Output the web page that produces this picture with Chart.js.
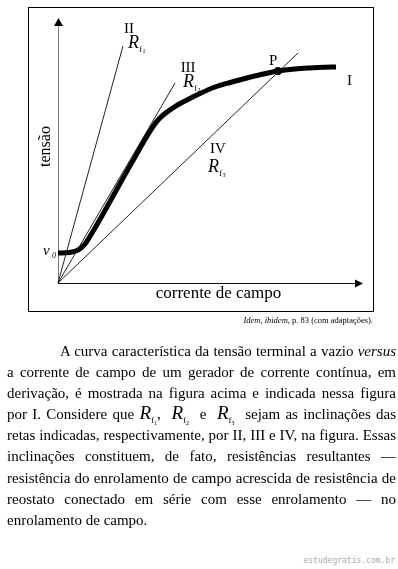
<!DOCTYPE html>
<html>
<head>
<meta charset="utf-8">
<script src="https://cdn.jsdelivr.net/npm/chart.js@4/dist/chart.umd.min.js"></script>
<style>
  html, body { margin: 0; padding: 0; background: #fff; }
  body { width: 398px; height: 569px; position: relative; overflow: hidden; }
  #chartWrap { position: absolute; left: 0; top: 0; width: 398px; height: 330px; }
  #caption { position: absolute; right: 25px; top: 315px; font-family: 'Liberation Serif', serif; font-size: 8.5px; color: #000; white-space: nowrap; }
  #para { position: absolute; left: 7px; top: 341px; width: 389px; font-family: 'Liberation Serif', 'Times New Roman', serif; font-size: 15px; line-height: 21.1px; color: #000; }
  #para .l { text-align: justify; text-align-last: justify; white-space: nowrap; height: 21.1px; }
  #para .l.first { padding-left: 53px; }
  #para .l.last { text-align-last: left; }
  .R { font-style: italic; font-size: 19px; line-height: 0; }
  .sf { font-size: 9px; position: relative; top: 4px; line-height: 0; }
  .sn { font-size: 6px; position: relative; top: 2px; }
  #wm { position: absolute; right: 3px; top: 556px; font-family: 'DejaVu Sans Mono', monospace; font-size: 8px; color: #aaa; }
</style>
</head>
<body>
<div id="chartWrap"><canvas id="c" width="398" height="330"></canvas></div>
<div id="caption"><i>Idem</i>, <i>ibidem</i>, p. 83 (com adaptações).</div>
<div id="para">
  <div class="l first">A curva característica da tensão terminal a vazio <i>versus</i></div>
  <div class="l">a corrente de campo de um gerador de corrente contínua, em</div>
  <div class="l">derivação, é mostrada na figura acima e indicada nessa figura</div>
  <div class="l">por I. Considere que <span class="R">R</span><span class="sf">f<span class="sn">1</span></span>, &nbsp;<span class="R">R</span><span class="sf">f<span class="sn">2</span></span> &nbsp;e &nbsp;<span class="R">R</span><span class="sf">f<span class="sn">3</span></span> &nbsp;sejam as inclinações das</div>
  <div class="l">retas indicadas, respectivamente, por II, III e IV, na figura. Essas</div>
  <div class="l">inclinações constituem, de fato, resistências resultantes —</div>
  <div class="l">resistência do enrolamento de campo acrescida de resistência de</div>
  <div class="l">reostato conectado em série com esse enrolamento — no</div>
  <div class="l last">enrolamento de campo.</div>
</div>
<div id="wm">estudegratis.com.br</div>
<script>
// ---- data (arbitrary units: corrente de campo vs tensão) ----
const curveI_x = [0, 2.62, 4.59, 6.23, 7.54, 8.85, 10.16, 12.13, 15.41, 18.69, 21.97, 25.25, 28.52, 30.82, 32.79, 35.08, 38.36, 42.30, 46.56, 51.48, 56.39, 61.31, 66.23, 72.13, 77.70, 82.62, 87.54, 91.15];
const curveI_y = [11.32, 11.40, 11.70, 12.26, 13.21, 14.72, 16.98, 20.75, 27.36, 34.15, 40.94, 47.55, 54.15, 58.49, 61.51, 63.96, 66.60, 69.06, 71.51, 73.96, 75.66, 77.17, 78.57, 80.00, 80.75, 81.13, 81.40, 81.51];
const lineII_x = [0, 21.3];
const lineII_y = [0, 89.4];
const lineIII_x = [0, 38.4];
const lineIII_y = [0, 75.5];
const lineIV_x = [0, 78.7];
const lineIV_y = [0, 86.8];
const pointP = [72.13, 80.0];
const axisMax = 100;

const pts = (xs, ys) => xs.map((x, i) => ({ x: x, y: ys[i] }));
const SERIF = "'Liberation Serif', 'Times New Roman', serif";

function drawRf(ctx, x, y, idx) {
  ctx.font = 'italic 18px ' + SERIF;
  ctx.fillText('R', x, y);
  const w = ctx.measureText('R').width;
  ctx.font = '9px ' + SERIF;
  ctx.fillText('f', x + w, y + 4);
  const fw = ctx.measureText('f').width;
  ctx.font = '6px ' + SERIF;
  ctx.fillText(idx, x + w + fw + 0.5, y + 5);
}

const overlay = {
  id: 'overlay',
  beforeDatasetsDraw(chart) {
    const ctx = chart.ctx;
    const a = chart.chartArea;
    ctx.save();
    ctx.strokeStyle = '#000';
    ctx.lineWidth = 1;
    ctx.strokeRect(28.5, 7.5, 345, 304);
    ctx.strokeStyle = '#777';
    ctx.beginPath(); ctx.moveTo(a.left + 0.5, a.bottom); ctx.lineTo(a.left + 0.5, a.top + 6); ctx.stroke();
    ctx.fillStyle = '#000';
    ctx.beginPath(); ctx.moveTo(a.left + 0.5, a.top); ctx.lineTo(a.left - 4, a.top + 8); ctx.lineTo(a.left + 5, a.top + 8); ctx.closePath(); ctx.fill();
    ctx.strokeStyle = '#111';
    ctx.beginPath(); ctx.moveTo(a.left, a.bottom + 0.5); ctx.lineTo(a.right - 6, a.bottom + 0.5); ctx.stroke();
    ctx.beginPath(); ctx.moveTo(a.right, a.bottom + 0.5); ctx.lineTo(a.right - 8, a.bottom - 3.5); ctx.lineTo(a.right - 8, a.bottom + 4.5); ctx.closePath(); ctx.fill();
    ctx.restore();
  },
  afterDraw(chart) {
    const ctx = chart.ctx;
    const a = chart.chartArea;
    const xs = chart.scales.x, ys = chart.scales.y;
    const px = (v) => xs.getPixelForValue(v), py = (v) => ys.getPixelForValue(v);
    ctx.save();
    ctx.fillStyle = '#000';
    ctx.textBaseline = 'alphabetic';
    ctx.font = '17px ' + SERIF;
    ctx.textAlign = 'center';
    ctx.fillText('corrente de campo', (a.left + a.right) / 2 + 8, a.bottom + 15);
    ctx.save();
    ctx.translate(a.left - 8, (a.top + a.bottom) / 2 - 4);
    ctx.rotate(-Math.PI / 2);
    ctx.font = '16px ' + SERIF;
    ctx.fillText('tensão', 0, 0);
    ctx.restore();
    let ex = px(lineII_x[1]), ey = py(lineII_y[1]);
    ctx.font = '15px ' + SERIF; ctx.textAlign = 'center';
    ctx.fillText('II', ex + 6, ey - 13);
    ctx.textAlign = 'left';
    drawRf(ctx, ex + 5, ey + 2, '1');
    ex = px(lineIII_x[1]); ey = py(lineIII_y[1]);
    ctx.font = '15px ' + SERIF; ctx.textAlign = 'center';
    ctx.fillText('III', ex + 13, ey - 11);
    ctx.textAlign = 'left';
    drawRf(ctx, ex + 8, ey + 4, '2');
    ex = px(lineIV_x[1]); ey = py(lineIV_y[1]);
    ctx.font = '15px ' + SERIF;
    ctx.fillText('IV', ex - 88, ey + 100);
    drawRf(ctx, ex - 90, ey + 119, '3');
    ctx.font = '15px ' + SERIF;
    ctx.fillText('P', px(pointP[0]) - 9, py(pointP[1]) - 6);
    const n = curveI_x.length - 1;
    ctx.fillText('I', px(curveI_x[n]) + 11, py(curveI_y[n]) + 18);
    const vx = px(curveI_x[0]), vy = py(curveI_y[0]);
    ctx.font = 'italic 15px ' + SERIF;
    ctx.fillText('v', vx - 15, vy + 2);
    ctx.font = 'italic 8px ' + SERIF;
    ctx.fillText('0', vx - 6, vy + 5);
    ctx.restore();
  }
};

new Chart(document.getElementById('c'), {
  type: 'scatter',
  data: {
    datasets: [
      { label: 'II', data: pts(lineII_x, lineII_y), showLine: true, borderColor: '#222', borderWidth: 1, pointRadius: 0, clip: false },
      { label: 'III', data: pts(lineIII_x, lineIII_y), showLine: true, borderColor: '#222', borderWidth: 1, pointRadius: 0, clip: false },
      { label: 'IV', data: pts(lineIV_x, lineIV_y), showLine: true, borderColor: '#222', borderWidth: 1, pointRadius: 0, clip: false },
      { label: 'I', data: pts(curveI_x, curveI_y), showLine: true, borderColor: '#000', borderWidth: 5, pointRadius: 0, cubicInterpolationMode: 'monotone', borderCapStyle: 'butt', borderJoinStyle: 'round', clip: false },
      { label: 'P', data: [{ x: pointP[0], y: pointP[1] }], showLine: false, pointRadius: 4, pointBackgroundColor: '#000', pointBorderWidth: 0, clip: false }
    ]
  },
  options: {
    responsive: false,
    animation: false,
    devicePixelRatio: 1,
    layout: { padding: { left: 58, top: 18, right: 35, bottom: 47 } },
    plugins: { legend: { display: false }, tooltip: { enabled: false }, title: { display: false } },
    scales: {
      x: { type: 'linear', min: 0, max: axisMax, display: false },
      y: { type: 'linear', min: 0, max: axisMax, display: false }
    }
  },
  plugins: [overlay]
});
</script>
</body>
</html>
